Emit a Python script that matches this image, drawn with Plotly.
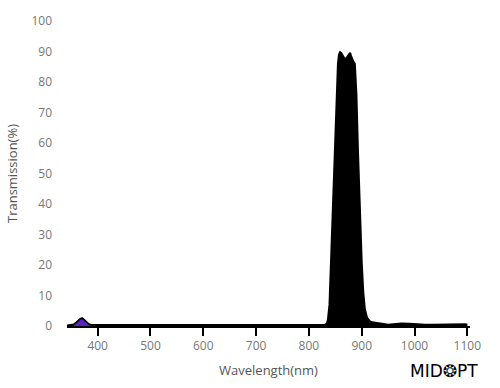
import plotly.graph_objects as go

# Transmission spectrum
wavelength = [342, 350, 355, 360, 365, 368, 371, 374, 378, 383, 388, 392, 400, 420, 450, 500, 550,
              600, 650, 700, 750, 800, 820, 830, 834, 836, 839, 842, 845, 848, 851, 853, 855,
              857, 859, 861, 864, 867, 870, 873, 876, 878, 880, 882, 884, 887, 890, 893, 896,
              900, 903, 906, 910, 915, 920, 930, 940, 950, 960, 975, 990, 1005, 1020, 1035,
              1050, 1065, 1080, 1095, 1100]
transmission = [0.2, 0.3, 0.5, 1.2, 2.0, 2.4, 2.5, 2.1, 1.4, 0.6, 0.3, 0.3, 0.3, 0.4, 0.3, 0.3, 0.3,
                0.3, 0.3, 0.3, 0.3, 0.3, 0.3, 0.4, 0.8, 2.0, 7.0, 21.0, 35.0, 50.0, 64.0, 78.0, 86.0,
                89.0, 89.8, 89.6, 88.8, 87.8, 87.5, 88.4, 89.2, 89.6, 88.5, 87.2, 86.8, 86.0, 76.0, 57.0, 39.0,
                21.0, 11.0, 5.5, 2.8, 1.6, 1.2, 0.9, 0.5, 0.4, 0.6, 0.8, 0.7, 0.5, 0.4, 0.4,
                0.5, 0.6, 0.7, 0.6, 0.5]

uv_wavelength = [355, 360, 365, 368, 371, 374, 378, 383, 388]
uv_transmission = [0.5, 1.2, 2.0, 2.4, 2.5, 2.1, 1.4, 0.6, 0.3]

x_ticks = [400, 500, 600, 700, 800, 900, 1000, 1100]
y_ticks = [0, 10, 20, 30, 40, 50, 60, 70, 80, 90, 100]

fig = go.Figure()
fig.add_trace(go.Scatter(x=wavelength, y=transmission, mode="lines",
                         line=dict(color="black", width=2), fill="tozeroy",
                         fillcolor="black", hoverinfo="skip"))
fig.add_trace(go.Scatter(x=uv_wavelength, y=uv_transmission, mode="lines",
                         line=dict(color="black", width=1.5), fill="tozeroy",
                         fillcolor="#5a22c4", hoverinfo="skip"))

fig.update_layout(
    width=500, height=388,
    margin=dict(l=67, r=30, t=16, b=61),
    paper_bgcolor="white", plot_bgcolor="white",
    showlegend=False,
    font=dict(family="Open Sans", color="#777777"),
    xaxis=dict(range=[341.9, 1105.1], tickvals=x_ticks, ticktext=[str(v) for v in x_ticks],
               showgrid=False, zeroline=False, showline=True, linecolor="black", linewidth=2,
               ticks="outside", ticklen=8, tickwidth=1.5, tickcolor="black",
               tickfont=dict(size=12, color="#777777"),
               title=dict(text="Wavelength(nm)", font=dict(size=13, color="#555555"), standoff=12)),
    yaxis=dict(range=[0, 100], tickvals=y_ticks, ticktext=[str(v) for v in y_ticks],
               showgrid=False, zeroline=False, showline=False, ticks="",
               ticklabelstandoff=14,
               tickfont=dict(size=12, color="#777777"),
               title=dict(text="Transmission(%)", font=dict(size=13, color="#555555"), standoff=10)),
)

fig.add_annotation(text="MID❂PT", xref="paper", yref="paper", x=1.025, y=-0.148,
                   xanchor="right", yanchor="middle", showarrow=False,
                   font=dict(family="DejaVu Sans", size=17, color="black"))

fig.write_html("out.html")
